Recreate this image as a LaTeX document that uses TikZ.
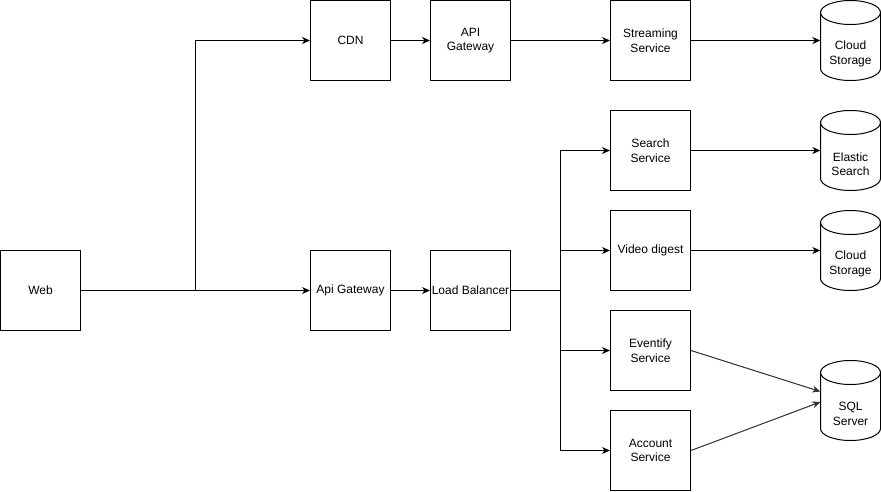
\documentclass[tikz,border=0pt]{standalone}
\usepackage{fontspec}
\setmainfont{Liberation Sans}
\usetikzlibrary{arrows.meta,calc}
\tikzset{
  txt/.style={font=\fontsize{12}{14.5}\selectfont},
  box/.style={draw, line width=1pt, minimum width=80pt, minimum height=80pt, inner sep=0pt, align=center, txt},
  conn/.style={line width=1pt, -{Stealth[length=8pt,width=7pt,inset=2.5pt]}},
  diag/.style={conn, draw=black!80, fill=black!80},
  plainline/.style={line width=1pt},
  cylline/.style={line width=1pt},
  lbl/.style={align=center, inner sep=0pt, txt}
}
\newcommand\dbcyl[4]{%
  \begin{scope}[shift={(#2,#3)}]
    \draw[cylline] (0,12) .. controls (0,5.37) and (13.43,0) .. (30,0)
      .. controls (46.57,0) and (60,5.37) .. (60,12) -- (60,68)
      .. controls (60,74.63) and (46.57,80) .. (30,80)
      .. controls (13.43,80) and (0,74.63) .. (0,68) -- cycle;
    \draw[cylline] (0,12) .. controls (0,18.63) and (13.43,24) .. (30,24)
      .. controls (46.57,24) and (60,18.63) .. (60,12);
    \node[minimum width=60pt, minimum height=80pt, inner sep=0pt] (#1) at (30,40) {};
    \node[lbl] (#1t) at (30,53.5) {#4};
  \end{scope}}
\begin{document}
\begin{tikzpicture}[x=1pt,y=-1pt]
\useasboundingbox (0,0) rectangle (881,491);
% boxes
\node[box] (web) at (40.5,290.5) {Web};
\node[box] (cdn) at (350.5,40.5) {CDN};
\node[box] (apigw) at (470.5,40.5) {API\\Gateway};
\node[box] (stream) at (650.5,40.5) {Streaming\\Service};
\node[box] (apigw2) at (350.5,290.5) {Api Gateway};
\node[box] (lb) at (470.5,290.5) {Load Balancer};
\node[box] (search) at (650.5,150.5) {Search\\Service};
\node[box] (video) at (650.5,250.5) {Video digest};
\node[box] (event) at (650.5,350.5) {Eventify\\Service};
\node[box] (account) at (650.5,450.5) {Account\\Service};
% cylinders
\dbcyl{cs1}{820.5}{0.5}{Cloud\\Storage}
\dbcyl{es}{820.5}{110.5}{Elastic\\Search}
\dbcyl{cs2}{820.5}{210.5}{Cloud\\Storage}
\dbcyl{sql}{820.5}{360.5}{SQL\\Server}
% connectors
\coordinate (j1) at (195.5,290.5);
\coordinate (j2) at (560.5,290.5);
\draw[conn] (web) -- (apigw2);
\draw[conn] (j1) |- (cdn.west);
\draw[conn] (cdn) -- (apigw);
\draw[conn] (apigw) -- (stream);
\draw[conn] (stream) -- (cs1);
\draw[conn] (apigw2) -- (lb);
\draw[plainline] (lb.east) -- (j2);
\foreach \n in {search,video,event,account}
  \draw[conn] (j2) |- (\n.west);
\draw[conn] (search) -- (es);
\draw[conn] (video) -- (cs2);
\draw[diag] (event.east) -- ([yshift=9pt]sql.west);
\draw[diag] (account.east) -- ([yshift=-1.5pt]sql.west);
\end{tikzpicture}
\end{document}
